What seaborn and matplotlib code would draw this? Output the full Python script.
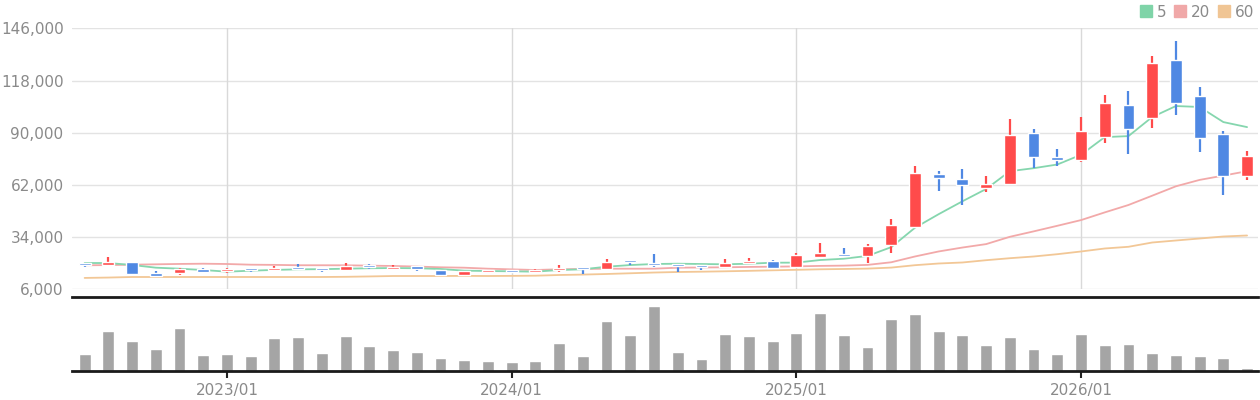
import numpy as np
import pandas as pd
import matplotlib
matplotlib.use("Agg")
import matplotlib.pyplot as plt
from matplotlib.lines import Line2D
import seaborn as sns

# monthly candles, 2022/07 .. 2026/08
opens = [20100, 19200, 20640, 14740, 14900, 16890, 15820, 17420, 16350, 18120,
         17420, 16350, 19200, 17050, 18660, 16510, 13830, 15440, 16510, 15440,
         16510, 17960, 17050, 21720, 20110, 19570, 19035, 17960, 20110, 21180,
         17960, 23330, 24940, 23860, 29760, 39420, 67850, 65170, 60550, 62700,
         89630, 77230, 75620, 87430, 104640, 97670, 128890, 109530, 89090, 66990]
closes = [19035, 20640, 14370, 13300, 17050, 15440, 16890, 16350, 17590, 16890,
          16510, 18660, 17960, 18120, 17050, 13830, 15980, 16510, 15440, 16510,
          17590, 16890, 20640, 20640, 19035, 18500, 17960, 20110, 21180, 17420,
          24400, 25470, 23860, 29230, 40490, 68380, 65700, 61950, 62700, 88500,
          76700, 75090, 90700, 105770, 91770, 127280, 105770, 86890, 66990, 77770]
highs = [20100, 23330, 20640, 15820, 17420, 17420, 17420, 17420, 18500, 19570,
         17420, 20110, 19730, 19035, 18660, 16510, 15980, 16510, 16510, 17050,
         19035, 17960, 22250, 21720, 24940, 19570, 19035, 22250, 22790, 21720,
         25470, 30840, 28150, 30300, 43710, 72140, 69460, 70530, 66990, 97130,
         91770, 80990, 98210, 110060, 112210, 131040, 139130, 114350, 90700, 79920]
lows = [17800, 18660, 14370, 13300, 13670, 15440, 14900, 15280, 15820, 16350,
        15280, 15820, 16890, 16510, 15980, 13130, 13830, 15440, 14900, 15440,
        15440, 14370, 16510, 19035, 17960, 15280, 16350, 17420, 19570, 17420,
        17960, 22790, 23860, 20110, 25470, 39420, 58730, 51220, 58410, 62160,
        71280, 72350, 74550, 84740, 78840, 92310, 99280, 79380, 56800, 64840]
volumes = [5200, 12100, 9100, 6700, 13000, 4900, 5200, 4600, 10000, 10300,
           5500, 10600, 7600, 6400, 5800, 4000, 3400, 3100, 2800, 3100,
           8500, 4600, 15100, 10900, 19600, 5800, 3700, 11200, 10600, 9100,
           11500, 17500, 10900, 7300, 15700, 17200, 12100, 10900, 7900, 10300,
           6700, 5200, 11200, 7900, 8200, 5500, 4900, 4600, 4000, 1000]
ma5 = [20100, 20100, 19040, 17600, 17050, 16350, 15450, 15980, 16400, 16700,
       16800, 17050, 17300, 17400, 17300, 16900, 16000, 15800, 15650, 15450,
       16350, 16730, 18120, 19000, 19570, 19730, 19570, 19410, 19730, 20270,
       20300, 21700, 22400, 23900, 28600, 39000, 46300, 53200, 59800, 69350,
       70950, 72940, 78140, 87640, 88170, 98400, 104300, 103800, 95700, 93000]
ma20 = [18870, 19000, 19200, 19400, 19600, 19730, 19570, 19200, 19100, 18900,
        18900, 18870, 18700, 18500, 18200, 17800, 17590, 17050, 16700, 16350,
        16730, 16890, 17050, 17050, 17050, 17590, 17700, 17800, 18000, 18120,
        18300, 18550, 18700, 19090, 20500, 23600, 26300, 28400, 30240, 34160,
        37060, 40060, 43120, 47250, 51220, 56210, 61250, 64680, 66990, 69350]
ma60 = [12100, 12300, 12600, 12600, 12600, 12600, 12600, 12600, 12600, 12600,
        12600, 12700, 12900, 13130, 13130, 13130, 13200, 13130, 13200, 13300,
        13670, 13900, 14210, 14600, 15000, 15280, 15450, 15660, 15900, 16190,
        16450, 16730, 16900, 17100, 17640, 18930, 19840, 20380, 21610, 22680,
        23590, 24830, 26280, 27890, 28800, 31100, 32180, 33250, 34320, 34860]
months = pd.period_range("2022-07", "2026-08", freq="M")
price_ticks = [6000, 34000, 62000, 90000, 118000, 146000]

UP = "#ff4b4b"
DOWN = "#4f88e3"
GRID = "#e3e3e3"
TXT = "#8a8a8a"

df = pd.DataFrame({"open": opens, "high": highs, "low": lows, "close": closes,
                   "volume": volumes, "ma5": ma5, "ma20": ma20, "ma60": ma60})
df["i"] = np.arange(len(df))
df["color"] = np.where(df["close"] >= df["open"], UP, DOWN)
year_starts = [i for i, m in enumerate(months) if m.month == 1]
year_labels = [months[i].strftime("%Y/%m") for i in year_starts]

sns.set_theme(style="white")
plt.rcParams["font.family"] = ["DejaVu Sans"]

fig = plt.figure(figsize=(12.6, 4), dpi=100)
ax = fig.add_axes([0.0571, 1 - 289.3 / 400, 0.9413, 261 / 400])
axv = fig.add_axes([0.0571, 1 - 371.3 / 400, 0.9413, 74.6 / 400])
xlim = (-0.535, len(df) - 0.54)

# price panel
for y in price_ticks:
    ax.axhline(y, color=GRID, lw=1, zorder=0)
for i in year_starts:
    ax.axvline(i, color="#d9d9d9", lw=1, zorder=0)

sns.lineplot(data=df, x="i", y="ma60", color="#f2c796", lw=1.3, ax=ax, zorder=2)
sns.lineplot(data=df, x="i", y="ma20", color="#f2a9a9", lw=1.3, ax=ax, zorder=2)
sns.lineplot(data=df, x="i", y="ma5", color="#85d6ae", lw=1.3, ax=ax, zorder=2)

ax.vlines(df["i"], df["low"], df["high"], colors=df["color"], lw=1.6, zorder=3)
body_lo = df[["open", "close"]].min(axis=1)
body_h = (df["open"] - df["close"]).abs().clip(lower=1100)
ax.bar(df["i"], body_h, bottom=body_lo, width=0.5, color=df["color"], zorder=4)

ax.set_xlim(*xlim)
ax.set_ylim(6000, 146000)
ax.set_yticks(price_ticks)
ax.set_yticklabels([f"{v:,}" for v in price_ticks])
ax.set_xticks([])
ax.tick_params(axis="y", colors=TXT, labelsize=11, length=0, pad=6)
ax.set_xlabel("")
ax.set_ylabel("")
for s in ax.spines.values():
    s.set_visible(False)

# volume panel
sns.barplot(data=df, x="i", y="volume", native_scale=True, color="#a5a5a5",
            saturation=1, width=0.5, errorbar=None, ax=axv)
axv.set_xlim(*xlim)
axv.set_ylim(0, max(volumes) * 224 / 196)
axv.set_yticks([])
axv.set_xticks(year_starts)
axv.set_xticklabels(year_labels)
axv.tick_params(axis="x", colors="#222222", labelcolor=TXT, labelsize=11,
                length=5, width=1.5, direction="out", bottom=True)
axv.set_xlabel("")
axv.set_ylabel("")
for k in ["left", "right"]:
    axv.spines[k].set_visible(False)
for k in ["top", "bottom"]:
    axv.spines[k].set_color("#1a1a1a")
    axv.spines[k].set_linewidth(2)

handles = [Line2D([], [], marker="s", ls="", color=c, markersize=8)
           for c in ["#7fd4a8", "#f0a8a8", "#f0c594"]]
fig.legend(handles, ["5", "20", "60"], loc="upper right", ncol=3,
           bbox_to_anchor=(1.004, 1.015), frameon=False, fontsize=11,
           labelcolor=TXT, handletextpad=0.25, columnspacing=0.35,
           handlelength=1.0, borderaxespad=0.3)

fig.savefig("out.png", dpi=100)
